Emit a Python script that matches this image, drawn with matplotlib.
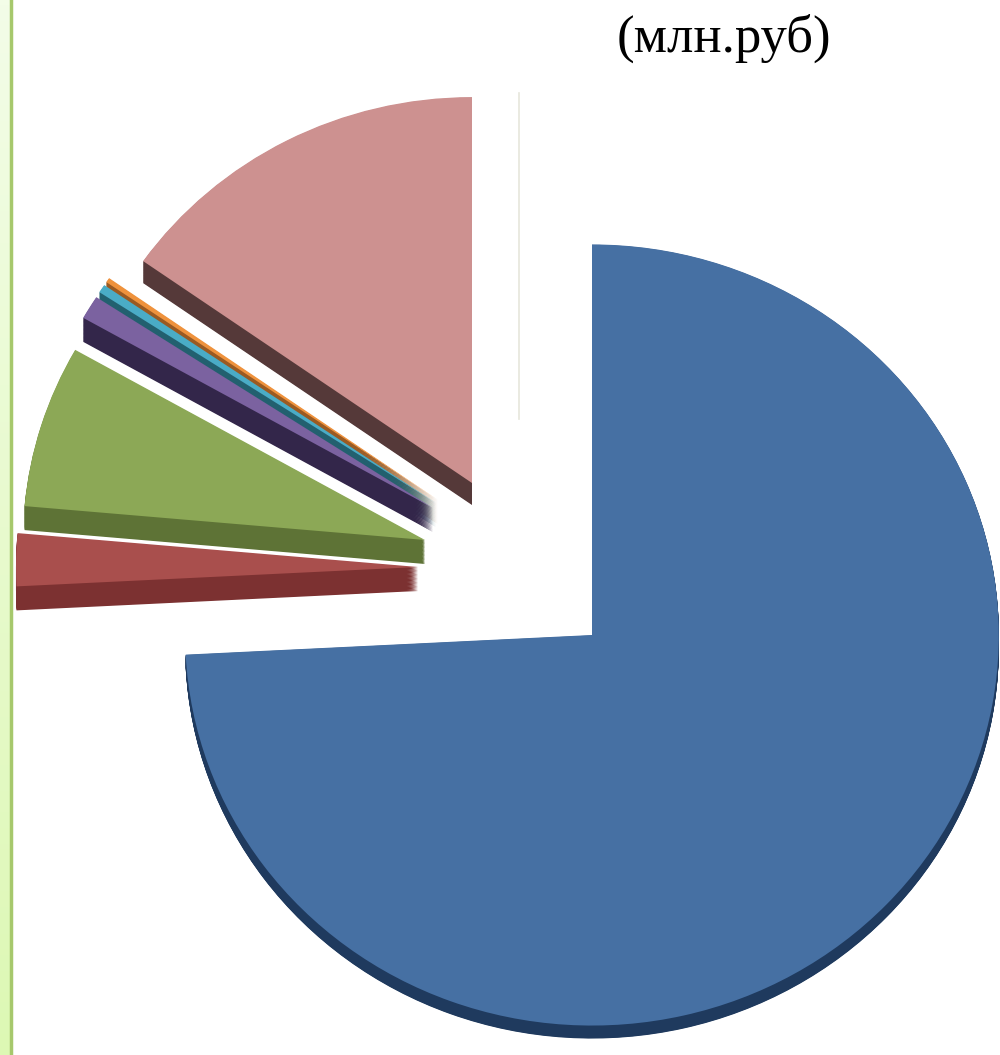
import matplotlib
matplotlib.use('Agg')
import matplotlib.pyplot as plt
import numpy as np
from matplotlib.colors import to_rgb

# ---- data (shares of the total) ----
labels = ["A", "B", "C", "D", "E", "F", "G"]
values = [74.2, 2.2, 6.8, 1.0, 0.35, 0.2, 15.25]
title = "(млн.руб)"

# ---- style ----
top_colors = ["#4670A3", "#A94F4D", "#8CA856", "#7B62A0", "#4AACC6", "#EF923C", "#CD9190"]
side_colors = ["#1F3A5E", "#7C3131", "#5E7336", "#33264A", "#22606F", "#9A5A22", "#553939"]
apex_px = [(592, 635), (418, 567), (425, 540), (433, 508), (436, 503), (438, 500), (472, 483)]
depth_px = [13, 24, 24, 24, 24, 24, 22]
radius_scale = [1.012, 1, 1, 1, 1, 1, 1]

W, H = 1000, 1055
SY = 0.96
R = 402

fig = plt.figure(figsize=(W / 100, H / 100), dpi=100)
ax = fig.add_axes([0, 0, 1, 1])


def to_data(px, py):
    return px, (H - py) / SY


# side (extrusion) layers
nsteps = 30
for k in range(nsteps, 0, -1):
    wedges, _ = ax.pie(values, colors=side_colors, startangle=90, counterclock=False,
                       radius=R, frame=True, wedgeprops=dict(linewidth=0))
    for w, (px, py), dp, rs in zip(wedges, apex_px, depth_px, radius_scale):
        w.set_center(to_data(px, py + dp * k / nsteps))
        w.set_radius(R * rs)

# top faces
wedges, _ = ax.pie(values, colors=top_colors, startangle=90, counterclock=False,
                   radius=R, frame=True, wedgeprops=dict(linewidth=0))
for w, (px, py), rs in zip(wedges, apex_px, radius_scale):
    w.set_center(to_data(px, py))
    w.set_radius(R * rs)

# left decorative band
grad = np.linspace(0, 1, 200).reshape(-1, 1)
c1, c2 = np.array(to_rgb("#F3FDE8")), np.array(to_rgb("#DDF8B4"))
img = c1[None, None, :] * (1 - grad[:, :, None]) + c2[None, None, :] * grad[:, :, None]
ax.imshow(img, extent=(0, 9.5, 0, H / SY), aspect='auto', origin='upper', zorder=5)
ax.plot([10.5, 10.5], [0, H / SY], color="#A6C86C", lw=2.5, zorder=6)

# faint vertical line
x0, y0 = to_data(519, 93)
x1, y1 = to_data(519, 419)
ax.plot([x0, x1], [y0, y1], color="#E6E6DC", lw=1.2, zorder=1)

# title
tx, ty = to_data(724, 38)
ax.text(tx, ty, title, fontsize=38, family=["Liberation Serif", "DejaVu Serif"],
        ha='center', va='center', color="black")

ax.set_aspect('auto')
ax.set_xlim(0, W)
ax.set_ylim(0, H / SY)
ax.axis('off')

fig.savefig("out.png", dpi=100)
